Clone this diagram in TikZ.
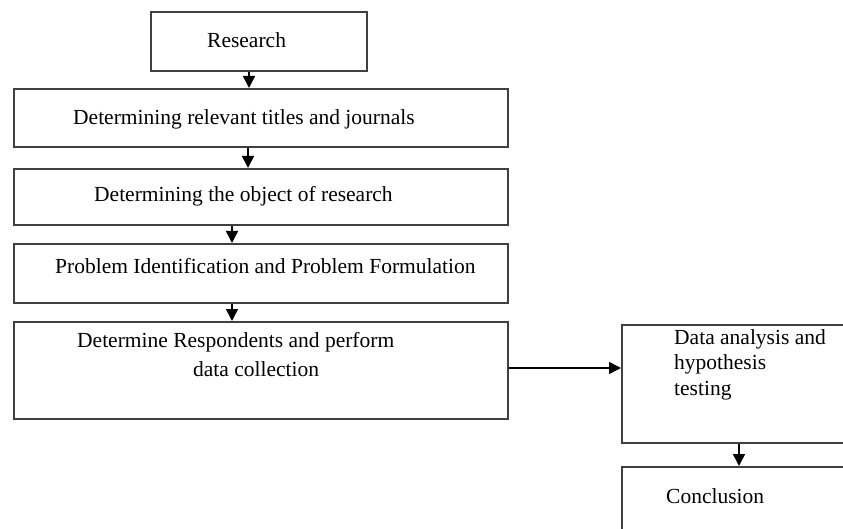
\documentclass[tikz,border=0pt]{standalone}
\usepackage{fontspec}
\setmainfont{Liberation Serif}
\usetikzlibrary{arrows.meta}
\begin{document}
\begin{tikzpicture}[x=1pt,y=-1pt,
  box/.style={draw=black!75,line width=1.6pt,inner sep=0pt,anchor=north west},
  txt/.style={anchor=base west,inner sep=0pt,font=\fontsize{21.5}{25.5}\selectfont},
  arr/.style={draw=black,line width=1.5pt,-{Triangle[width=12pt,length=12pt]}}]
\clip (0,0) rectangle (843,529);
\fill[white] (0,0) rectangle (843,529);
% boxes
\node[box,minimum width=216pt,minimum height=59pt] (b1) at (150,11) {};
\node[box,minimum width=494pt,minimum height=58pt] (b2) at (13,88) {};
\node[box,minimum width=494pt,minimum height=56pt] (b3) at (13,168) {};
\node[box,minimum width=494pt,minimum height=59pt] (b4) at (13,243) {};
\node[box,minimum width=494pt,minimum height=97pt] (b5) at (13,321) {};
\node[box,minimum width=260pt,minimum height=118pt] (b6) at (621,324) {};
\node[box,minimum width=260pt,minimum height=110pt] (b7) at (621,466) {};
% texts
\node[txt] (t1) at (207,48) {Research};
\node[txt] (t2) at (73,125) {Determining relevant titles and journals};
\node[txt] (t3) at (94,202) {Determining the object of research};
\node[txt] (t4) at (55,273) {Problem Identification and Problem Formulation};
\node[txt] (t5a) at (77,347) {Determine Respondents and perform};
\node[txt] (t5b) at (193,376) {data collection};
\node[txt] (t6a) at (674,344) {Data analysis and};
\node[txt] (t6b) at (674,369) {hypothesis};
\node[txt] (t6c) at (674,395) {testing};
\node[txt] (t7) at (666,503) {Conclusion};
% connectors
\coordinate (c1) at (249,0);
\coordinate (c2) at (248,0);
\coordinate (c3) at (232,0);
\coordinate (c4) at (739,0);
\coordinate (h) at (0,368);
\draw[arr] (c1 |- b1.south) -- (c1 |- b2.north);
\draw[arr] (c2 |- b2.south) -- (c2 |- b3.north);
\draw[arr] (c3 |- b3.south) -- (c3 |- b4.north);
\draw[arr] (c3 |- b4.south) -- (c3 |- b5.north);
\draw[arr] (b5.east |- h) -- (b6.west |- h);
\draw[arr] (c4 |- b6.south) -- (c4 |- b7.north);
\end{tikzpicture}
\end{document}
